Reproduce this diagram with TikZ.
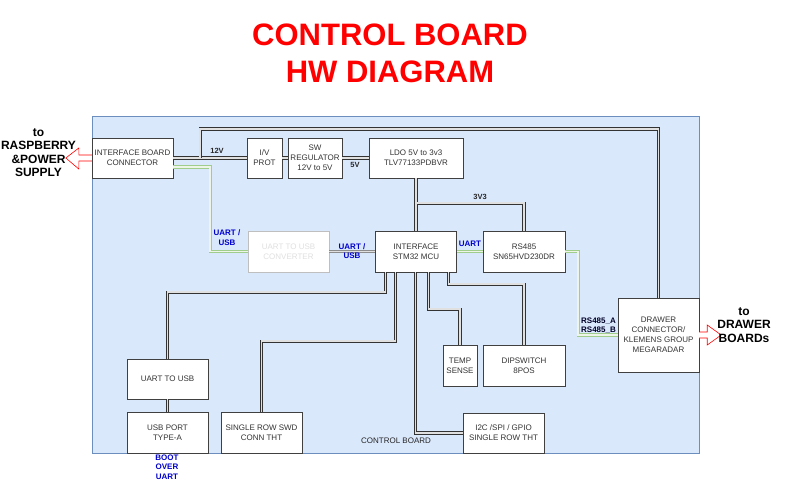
\documentclass[tikz,border=0pt]{standalone}
\usepackage{fontspec}
\setmainfont{Liberation Sans}
\usepackage{tikz}
\usetikzlibrary{positioning}
\definecolor{boardfill}{RGB}{218,232,252}
\definecolor{boardline}{RGB}{108,142,191}
\definecolor{uartgreen}{RGB}{160,205,140}
\definecolor{labelblue}{RGB}{0,0,204}
\tikzset{box/.style={draw=black!75, fill=white, align=center, inner sep=1pt, text=black!80,
    font=\fontsize{8}{10}\selectfont},
  dims/.style 2 args={minimum width=#1pt, minimum height=#2pt},
  wire/.style={draw=black!80, double=black!12, double distance=1.5pt, line width=0.8pt},
  uart/.style={draw=uartgreen, double=uartgreen!20, double distance=1.5pt, line width=0.8pt},
  sig/.style={font=\bfseries\fontsize{8}{9.5}\selectfont, text=labelblue, align=center, inner sep=0pt},
  rail/.style={font=\bfseries\fontsize{7.5}{9}\selectfont, text=black!85, align=center, inner sep=0pt},
  side/.style={font=\bfseries\fontsize{12}{13.5}\selectfont, align=center, inner sep=0pt},
  hollow/.style={draw=red, fill=white, line width=0.6pt, line join=miter},
}

\begin{document}
\begin{tikzpicture}[x=1pt, y=-1pt]
	\useasboundingbox (0,0) rectangle (786,491);
	\node[font=\bfseries\fontsize{31}{37}\selectfont, text=red, align=center, inner sep=0pt] (title) at (390,53) {CONTROL BOARD\\HW DIAGRAM};
	\draw[draw=boardline, fill=boardfill] (92,116) rectangle (699,453);

	\node[box, dims={81}{40}] (ifc) at (132.5,158) {INTERFACE BOARD\\CONNECTOR};
	\node[box, dims={35}{40}] (ivprot) at (264.5,158) {I/V\\PROT};
	\node[box, dims={54}{40}] (swreg) at (315,158) {SW\\REGULATOR\\12V to 5V};
	\node[box, dims={94}{40}] (ldo) at (416,158) {LDO 5V to 3v3\\TLV77133PDBVR};
	\node[box, dims={81}{41}, draw=black!25, text=black!12] (conv) at (288.5,251.5) {UART TO USB\\CONVERTER};
	\node[box, dims={81}{41}] (mcu) at (416,251.5) {INTERFACE\\STM32 MCU};
	\node[box, dims={82}{41}] (rs485) at (524,251.5) {RS485\\SN65HVD230DR};
	\node[box, dims={81}{74}] (drawer) at (658.5,335) {DRAWER\\CONNECTOR/\\KLEMENS GROUP\\MEGARADAR};
	\node[box, dims={81}{40}] (uart2usb) at (167.5,379) {UART TO USB};
	\node[box, dims={81}{41}] (usbport) at (167.5,432.5) {USB PORT\\TYPE-A};
	\node[box, dims={81}{41}] (swd) at (261.5,432.5) {SINGLE ROW SWD\\CONN THT};
	\node[box, dims={34}{41}] (temp) at (460,365.5) {TEMP\\SENSE};
	\node[box, dims={82}{41}] (dipsw) at (524,365.5) {DIPSWITCH\\8POS};
	\node[box, dims={81}{40}] (gpio) at (503.5,433) {I2C /SPI / GPIO\\SINGLE ROW THT};

	\draw[wire] (ifc.east) -- (ivprot.west);
	\draw[wire] (ifc.east) ++(27,0) -- ++(0,-29) -| (drawer.north);
	\draw[wire] (ivprot.east) -- (swreg.west);
	\draw[wire] (swreg.east) -- (ldo.west);
	\draw[wire] (ldo.south) -- (mcu.north) (ldo.south) ++(0,25) -| (rs485.north);
	\draw[uart] ([yshift=-9pt]ifc.east) -- ++(37,0) |- (conv.west);
	\draw[wire, draw=black!45] (conv.east) -- (mcu.west);
	\draw[uart] (mcu.east) -- (rs485.west);
	\draw[uart] (rs485.east) -- ++(13,0) |- (drawer.west);
	\draw[wire] ([xshift=10pt]mcu.south west) -- ++(0,20) -| (uart2usb.north);
	\draw[wire] ([xshift=20pt]mcu.south west) -- ++(0,69) -| (swd.north);
	\draw[wire] ([xshift=40pt]mcu.south west) |- (gpio.west);
	\draw[wire] ([xshift=53pt]mcu.south west) -- ++(0,37) -| (temp.north);
	\draw[wire] ([xshift=73pt]mcu.south west) -- ++(0,12) -| (dipsw.north);
	\draw[wire] (uart2usb.south) -- (usbport.north);

	\node[rail] (v12) at (217,151) {12V};
	\node[rail] (v5) at (355,165) {5V};
	\node[rail] (v33) at (480,197) {3V3};
	\node[sig] (usbsig) at (227,237.5) {UART /\\USB};
	\node[sig] (convsig) at (352,251) {UART /\\USB};
	\node[sig] (mcusig) at (470,244) {UART};
	\node[rail, text=black!85!blue, font=\bfseries\fontsize{8}{9.5}\selectfont] (bus) at (598.5,325.5) {RS485\_A\\RS485\_B};
	\node[sig] (boot) at (167,467) {BOOT\\OVER\\UART};
	\node[font=\fontsize{8}{10}\selectfont, text=black!85, inner sep=0pt] (board) at (396,441) {CONTROL BOARD};

	\draw[hollow] (ifc.west) ++(0,-3) -- ++(-13,0) -- ++(0,-7) -- ++(-13,10) -- ++(13,11) -- ++(0,-8) -- ++(13,0);
	\draw[hollow] (drawer.east) ++(0,-3) -- ++(8,0) -- ++(0,-7) -- ++(14,10) -- ++(-14,10) -- ++(0,-7) -- ++(-8,0);
	\node[side] (rpi) at (38.5,152.5) {to\\RASPBERRY\\\&POWER\\SUPPLY};
	\node[side] (boards) at (744,325) {to\\DRAWER\\BOARDs};
\end{tikzpicture}
\end{document}
